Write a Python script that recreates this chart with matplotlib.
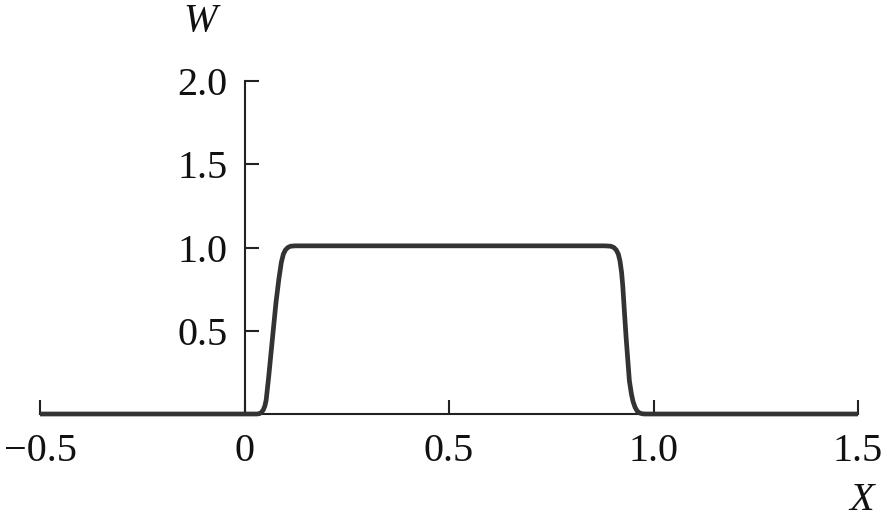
import matplotlib
matplotlib.use("Agg")
import matplotlib.pyplot as plt

# Curve W(X)
x_vals = [-0.5, 0.0, 0.030, 0.036, 0.041, 0.046, 0.050, 0.053, 0.059, 0.065, 0.071,
          0.077, 0.084, 0.090, 0.095, 0.100, 0.106, 0.113, 0.125, 0.15,
          0.5, 0.88, 0.895, 0.903, 0.909, 0.914, 0.918, 0.922, 0.925, 0.929,
          0.933, 0.937, 0.941, 0.946, 0.950, 0.955, 0.960, 0.966, 0.973, 0.98, 1.0, 1.5]
w_vals = [0.0, 0.0, 0.0, 0.002, 0.008, 0.025, 0.05, 0.084, 0.22, 0.37, 0.52,
          0.67, 0.81, 0.91, 0.96, 0.985, 1.0, 1.008, 1.01, 1.01,
          1.01, 1.01, 1.008, 1.0, 0.985, 0.96, 0.92, 0.85, 0.765, 0.61,
          0.46, 0.33, 0.20, 0.12, 0.075, 0.04, 0.018, 0.006, 0.001, 0.0, 0.0, 0.0]

x_ticks = [-0.5, 0.0, 0.5, 1.0, 1.5]
x_tick_labels = ["\u22120.5", "0", "0.5", "1.0", "1.5"]
y_ticks = [0.5, 1.0, 1.5, 2.0]
y_tick_labels = ["0.5", "1.0", "1.5", "2.0"]

plt.rcParams["font.family"] = ["Liberation Serif", "DejaVu Serif"]

W, H = 882, 527
fig = plt.figure(figsize=(W / 100, H / 100), dpi=100)
left, right = 40 / W, 858 / W
bottom, top = (H - 414) / H, (H - 81) / H
ax = fig.add_axes([left, bottom, right - left, top - bottom])
ax.set_xlim(-0.5, 1.5)
ax.set_ylim(0, 2.0)

ax.plot(x_vals, w_vals, color="#333333", lw=3.4, solid_capstyle="butt",
        solid_joinstyle="round", zorder=3, clip_on=False)

for s in ["top", "right"]:
    ax.spines[s].set_visible(False)
ax.spines["left"].set_position(("data", 0))
ax.spines["bottom"].set_position(("data", 0))
for s in ["left", "bottom"]:
    ax.spines[s].set_linewidth(1.5)
    ax.spines[s].set_color("#222222")

ax.set_xticks(x_ticks)
ax.set_xticklabels(x_tick_labels)
ax.set_yticks(y_ticks)
ax.set_yticklabels(y_tick_labels)
ax.tick_params(axis="both", direction="in", length=10, width=1.5, color="#222222",
               labelsize=29, labelcolor="#111111")
ax.tick_params(axis="x", pad=14)
ax.tick_params(axis="y", pad=12)

fig.text(200 / W, 1 - 22 / H, "W", ha="center", va="center", fontsize=29,
         style="italic", color="#111111")
fig.text(862 / W, 1 - 500 / H, "X", ha="center", va="center", fontsize=29,
         style="italic", color="#111111")

fig.savefig("out.png", dpi=100)
